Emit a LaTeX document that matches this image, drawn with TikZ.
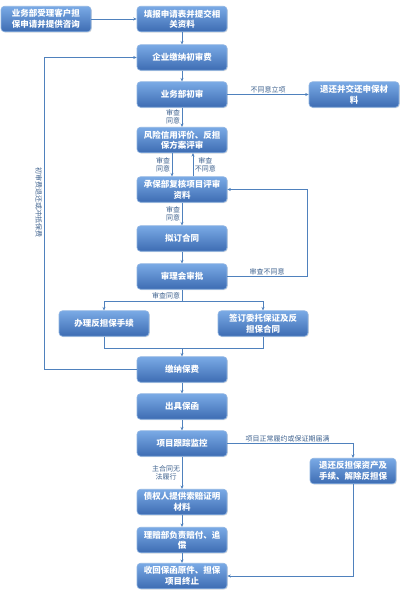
\documentclass[tikz,border=0pt]{standalone}
\usepackage{fontspec}
\setmainfont{Noto Sans CJK SC}
\usetikzlibrary{arrows.meta,calc,positioning,shadows}
\definecolor{boxtop}{HTML}{7AAAE6}
\definecolor{boxbot}{HTML}{3D6CB2}
\definecolor{boxline}{HTML}{8DB3E2}
\definecolor{lineblue}{HTML}{4F81BD}
\definecolor{labelblue}{HTML}{40638F}
\tikzset{
    mybox/.style={rectangle,rounded corners=3.5pt,draw=boxline,line width=0.6pt,top color=boxtop,bottom color=boxbot,
        minimum width=90pt,minimum height=25.5pt,inner sep=1pt,align=center,text=white,
        font=\fontsize{8.5}{10.5}\selectfont\bfseries,
        drop shadow={opacity=0.25,shadow xshift=0.8pt,shadow yshift=-0.8pt}},
    myedge/.style={line width=0.8pt,draw=lineblue,-{Stealth[length=3.5pt,width=3pt]}},
    myline/.style={line width=0.8pt,draw=lineblue},
    mylabel/.style={text=labelblue,font=\fontsize{7}{8}\selectfont,align=center,inner sep=1.5pt}
}
\begin{document}
\begin{tikzpicture}[x=1pt,y=-1pt]
          \useasboundingbox[fill=white] (0,0) rectangle (400,600);
          % 担保业务流程，坐标按原图像素摆放
          \node[mybox] (consult) at (46,19) {业务部受理客户担\\保申请并提供咨询};
          \node[mybox] (apply) at (182,19) {填报申请表并提交相\\关资料};
          \node[mybox] (fee) at (182,57.5) {企业缴纳初审费};
          \node[mybox] (first) at (182,94.5) {业务部初审};
          \node[mybox] (giveback) at (354,94.5) {退还并交还申保材\\料};
          \node[mybox] (risk) at (182,140) {风险信用评价、反担\\保方案评审};
          \node[mybox] (review) at (182,189.5) {承保部复核项目评审\\资料};
          \node[mybox] (draft) at (182,238.5) {拟订合同};
          \node[mybox] (approve) at (182,276.5) {审理会审批};
          \node[mybox] (counter) at (104,323.5) {办理反担保手续};
          \node[mybox] (sign) at (263,323.5) {签订委托保证及反\\担保合同};
          \node[mybox] (premium) at (182,369.5) {缴纳保费};
          \node[mybox] (letter) at (182,406.5) {出具保函};
          \node[mybox] (monitor) at (182,443.5) {项目跟踪监控};
          \node[mybox,minimum width=86pt] (release) at (353,471) {退还反担保资产及\\手续、解除反担保};
          \node[mybox] (claim) at (182,502) {债权人提供索赔证明\\材料};
          \node[mybox] (pay) at (182,540) {理赔部负责赔付、追\\偿};
          \node[mybox] (close) at (182,576) {收回保函原件、担保\\项目终止};
          \coordinate (split) at (182,301);
          \coordinate (merge) at (182,348);
          \coordinate (feeturn) at (44,57.5);
          \coordinate (backup) at (307,189.5);
          \draw[myedge] (consult) -- (apply);
          \draw[myedge] (apply) -- (fee);
          \draw[myedge] (fee) -- (first);
          \draw[myedge] (first) -- node[mylabel,above,midway] {不同意立项} (giveback);
          \draw[myedge] (first) -- node[mylabel,left] {审查\\同意} (risk);
          \draw[myedge] ([xshift=-10pt]risk.south) -- node[mylabel,left] {审查\\同意} ([xshift=-10pt]review.north);
          \draw[myedge] ([xshift=11pt]review.north) -- node[mylabel,right] {审查\\不同意} ([xshift=11pt]risk.south);
          \draw[myedge] (review) -- node[mylabel,left] {审查\\同意} (draft);
          \draw[myedge] (draft) -- (approve);
          \draw[myedge] (approve.east) -| node[mylabel,above,pos=0.25] {审查不同意} (backup) -- (review.east);
          \draw[myline] (approve) -- node[mylabel,left,pos=0.55] {审查同意} (split);
          \draw[myedge] (split) -| (counter.north);
          \draw[myedge] (split) -| (sign.north);
          \draw[myline] (counter.south) |- (merge);
          \draw[myline] (sign.south) |- (merge);
          \draw[myedge] (merge) -- (premium);
          \draw[myedge] (premium.west) -| node[mylabel,rotate=-90,pos=0.767,below] {初审费退还或冲抵保费} (feeturn) -- (fee.west);
          \draw[myedge] (premium) -- (letter);
          \draw[myedge] (letter) -- (monitor);
          \draw[myedge] (monitor.east) -| node[mylabel,above,pos=0.24] {项目正常履约或保证期届满} (release.north);
          \draw[myedge] (monitor) -- node[mylabel,left] {主合同无\\法履行} (claim);
          \draw[myedge] (claim) -- (pay);
          \draw[myedge] (pay) -- (close);
          \draw[myedge] (release.south) |- (close.east);
        \end{tikzpicture}
\end{document}
